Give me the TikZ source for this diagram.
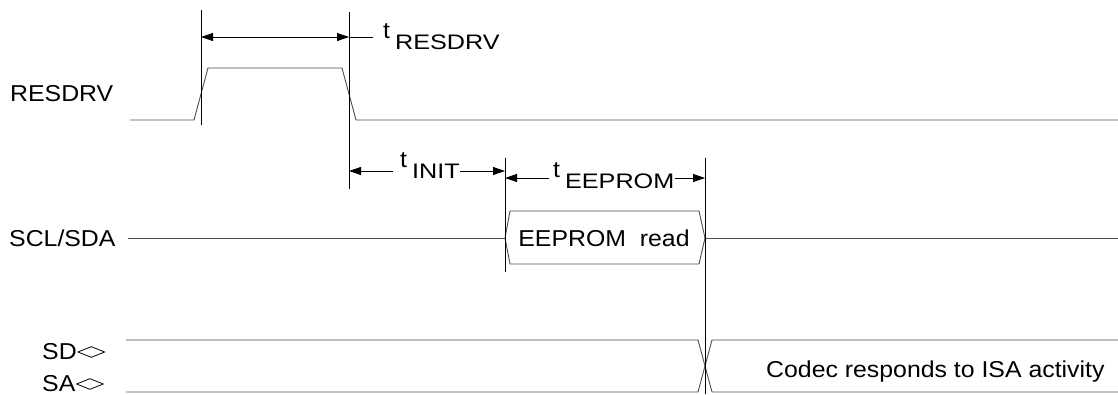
\documentclass[tikz,border=0pt]{standalone}
\usepackage{fontspec}
\setmainfont[FakeStretch=1.08]{Liberation Sans}
\newfontfamily\subfnt[FakeStretch=1.2]{Liberation Sans}
\usetikzlibrary{arrows.meta,shapes.geometric}
\newcommand{\tsub}[1]{t\kern5pt\lower11pt\hbox{\subfnt\fontsize{21pt}{21pt}\selectfont #1}}

\begin{document}
\begin{tikzpicture}[x=1pt,y=-1pt,
  every node/.style={inner sep=0pt,font=\fontsize{23pt}{25pt}\selectfont},
  signal/.style={line width=0.9pt,black!70},
  marker/.style={line width=0.9pt},
  dimline/.style={line width=0.8pt},
  dimarrow/.style={dimline,-{Triangle[length=12pt,width=8pt]}},
  dimboth/.style={dimline,{Triangle[length=12pt,width=8pt]}-{Triangle[length=12pt,width=8pt]}},
  bidir/.style={draw,diamond,line width=0.8pt,minimum width=27pt,minimum height=11pt,anchor=west}]
\useasboundingbox (0,0) rectangle (1118,394);

% signal names
\node[anchor=base west] (resdrv) at (10,101) {RESDRV};
\node[anchor=base west] (sclsda) at (9,246) {SCL/SDA};
\node[anchor=base west] (sd) at (42,359) {SD};
\node[anchor=base west] (sa) at (42,391) {SA};
\node[bidir] (sddir) at ([xshift=0.5pt,yshift=7pt]sd.base east) {};
\node[bidir] (sadir) at ([xshift=0.5pt,yshift=7pt]sa.base east) {};

% waveforms
\draw[signal] (130,120) -- (194,120) -- (208,68) -- (342,68) -- (356,120) -- (1118,120);
\draw[signal] (128,238) -- (505,238);
\draw[signal] (505,238) -- (510,211) -- (699,211) -- (705,238) -- (699,264) -- (510,264) -- cycle;
\draw[signal] (705,238) -- (1118,238);
\node[anchor=base] (eeread) at (604,246) {EEPROM\ \ read};
\draw[signal] (126,340) -- (698,340) -- (712,392) -- (1118,392);
\draw[signal] (126,392) -- (698,392) -- (712,340) -- (1118,340);
\node[anchor=base west] (codec) at (766,377) {Codec responds to ISA activity};

% timing markers
\draw[marker] (201,10) -- (201,125);
\draw[marker] (349,12) -- (349,189);
\draw[marker] (505,158) -- (505,272);
\draw[marker] (705,158) -- (705,394);

% t_RESDRV
\coordinate (r1) at (201,37);
\coordinate (r2) at (349,37);
\node[anchor=base west] (tres) at (383,38) {\tsub{RESDRV}};
\draw[dimboth] (r1) -- (r2);
\draw[dimline] (r2) -- ([xshift=-10pt]tres.west |- r2);

% t_INIT
\coordinate (i1) at (349,171);
\coordinate (i2) at (505,171);
\node[anchor=base west] (tinit) at (400,167) {\tsub{INIT}};
\draw[dimarrow] ([xshift=-7pt]tinit.west |- i1) -- (i1);
\draw[dimarrow] (tinit.east |- i2) -- (i2);

% t_EEPROM
\coordinate (e1) at (505,178);
\coordinate (e2) at (705,178);
\node[anchor=base west] (teep) at (553,177) {\tsub{EEPROM}};
\draw[dimarrow] ([xshift=-4pt]teep.west |- e1) -- (e1);
\draw[dimarrow] (teep.east |- e2) -- (e2);
\end{tikzpicture}
\end{document}
